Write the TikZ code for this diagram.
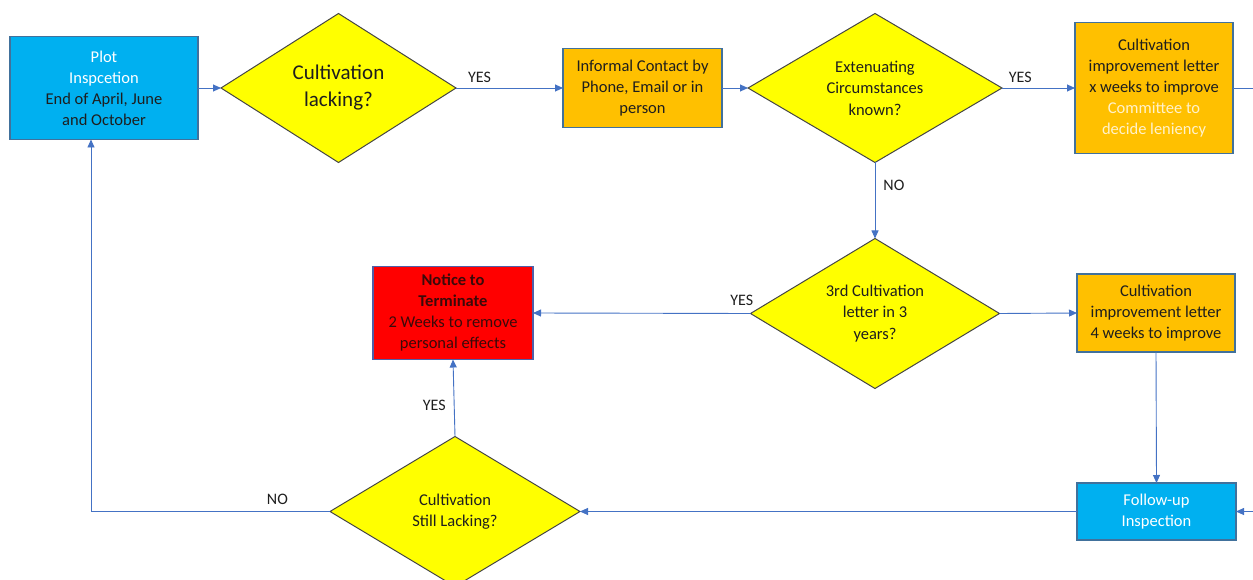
\documentclass[tikz,border=0pt]{standalone}
\usepackage{fontspec}
\setmainfont{Carlito}
\usepackage{tikz}
\usetikzlibrary{positioning}
\usetikzlibrary{shapes.geometric}
\usetikzlibrary{arrows.meta}
\definecolor{bleuciel}{HTML}{00B0F0}
\definecolor{orangeboite}{HTML}{FFC000}
\definecolor{jaune}{HTML}{FFFF00}
\definecolor{rouge}{HTML}{FF0000}
\definecolor{bordure}{HTML}{41719C}
\definecolor{bordurerouge}{HTML}{4F5FA8}
\definecolor{grislosange}{HTML}{454545}
\definecolor{bleufleche}{HTML}{4472C4}
\definecolor{texte}{HTML}{1E1E1E}
\definecolor{texterouge}{HTML}{3A0A0A}
\definecolor{blanccasse}{HTML}{FFF2CC}

\begin{document}
\begin{tikzpicture}[x=1pt,y=-1pt]
% les styles
\tikzstyle boite=[draw=bordure,line width=1.2pt,align=center,inner sep=2pt,outer sep=0pt,text=texte,font=\fontsize{16.5}{21}\selectfont]
\tikzstyle boitebleue=[boite,fill=bleuciel]
\tikzstyle boiteorange=[boite,fill=orangeboite]
\tikzstyle boiterouge=[boite,fill=rouge,draw=bordurerouge,text=texterouge]
\tikzstyle losange=[diamond,draw=grislosange,line width=1pt,fill=jaune,aspect=1.6,inner sep=0pt,outer sep=0pt,align=center,text=texte,font=\fontsize{16.5}{21.5}\selectfont]
\tikzstyle trait=[draw=bleufleche,line width=0.9pt]
\tikzstyle fleche=[trait,-{Triangle[length=8pt,width=7pt]}]
\tikzstyle reponse=[text=texte,font=\fontsize{16}{18}\selectfont,inner sep=2pt]

% le cadre
\clip (0,0) rectangle (1253,580);

% la ligne du haut
\node[boitebleue,minimum width=188,minimum height=103] (plot) at (104,88)
  {\textcolor{white}{Plot}\\\textcolor{white}{Inspcetion}\\End of April, June\\and October};
\node[losange,minimum width=235,minimum height=149,font=\fontsize{21}{27}\selectfont] (lack) at (338.5,88)
  {Cultivation\\lacking?};
\node[boiteorange,minimum width=159,minimum height=79] (inform) at (642.5,88)
  {Informal Contact by\\Phone, Email or in\\person};
\node[losange,minimum width=254,minimum height=149] (extenu) at (875,88)
  {Extenuating\\Circumstances\\known?};
\node[boiteorange,minimum width=158,minimum height=131] (letx) at (1154,88)
  {Cultivation\\improvement letter\\x weeks to improve\\\textcolor{blanccasse}{Committee to}\\\textcolor{blanccasse}{decide leniency}};

% la ligne du milieu
\node[losange,minimum width=249,minimum height=150] (third) [below=76pt of extenu]
  {3rd Cultivation\\letter in 3\\years?};
\node[boiterouge,minimum width=160,minimum height=93] (notice) at (453,313)
  {\textbf{Notice to}\\\textbf{Terminate}\\2 Weeks to remove\\personal effects};
\node[boiteorange,minimum width=158,minimum height=78] (let4) at (1156,313)
  {Cultivation\\improvement letter\\4 weeks to improve};

% la ligne du bas
\node[boitebleue,minimum width=159,minimum height=57,text=white] (follow) at (1156.5,511.5)
  {Follow-up\\Inspection};
\node[losange,minimum width=250,minimum height=150] (still) at (455,511.5)
  {Cultivation\\Still Lacking?};

% les bords
\coordinate (bordD) at (1262,88);
\coordinate (bordF) at (1262,511.5);

% les flèches
\draw[fleche] (plot.east) -- (lack.west);
\draw[fleche] (lack.east) -- node[reponse,pos=0.22,above=3pt] {YES} (inform.west);
\draw[fleche] (inform.east) -- (extenu.west);
\draw[fleche] (extenu.east) -- node[reponse,pos=0.25,above=3pt] {YES} (letx.west);
\draw[trait] (letx.east) -- (bordD);
\draw[fleche] (extenu.south) -- node[reponse,pos=0.3,right=6pt] {NO} (third.north);
\draw[fleche] (third.west) -- node[reponse,pos=0.04,above=5pt] {YES} (notice.east);
\draw[fleche] (third.east) -- (let4.west);
\draw[fleche] (let4.south) -- (follow.north);
\draw[fleche] (bordF) -- (follow.east);
\draw[fleche] (follow.west) -- (still.east);
\draw[fleche] (still.north) -- node[reponse,pos=0.4,left=6pt] {YES} (notice.south);
\draw[fleche] (still.west) -| node[reponse,pos=0.11,above=4pt] {NO} ([xshift=-13pt]plot.south);
\end{tikzpicture}
\end{document}
